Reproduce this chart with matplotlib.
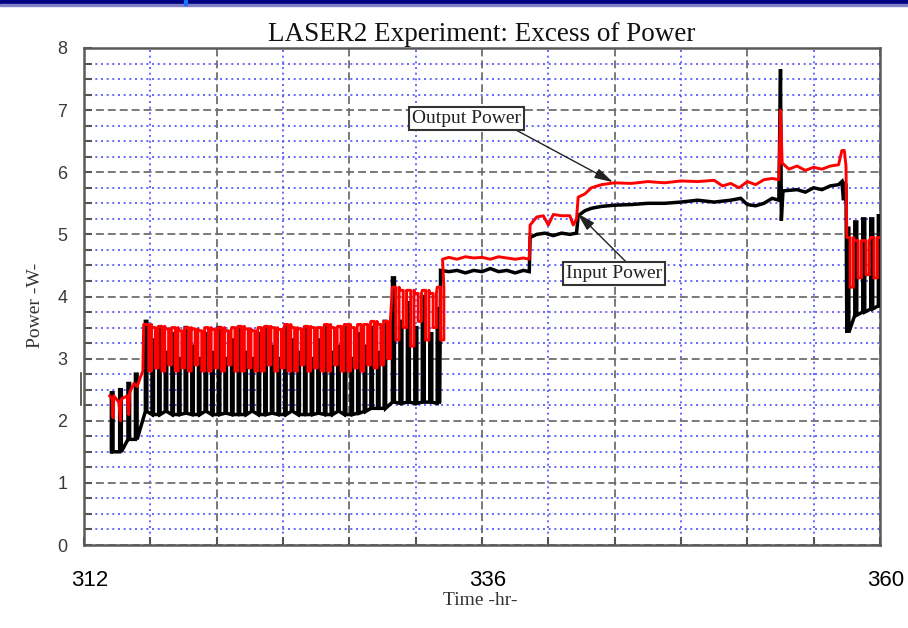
import matplotlib
matplotlib.use('Agg')
import matplotlib.pyplot as plt
from matplotlib.patches import Rectangle
from matplotlib.ticker import MultipleLocator, FixedLocator, FixedFormatter
import matplotlib.transforms as mtransforms

# ---------------- data (hours, watts) ----------------

# start of the run
start_t_black = [313.65, 314.15, 314.65, 315.1]
start_black_lo = [1.5, 1.5, 1.7, 1.7]
start_black_hi = [2.45, 2.5, 2.6, 2.75]
start_t_red = [313.55, 313.7, 313.75, 313.8, 314.1, 314.2, 314.25, 314.6,
               314.7, 314.75, 315.0, 315.2, 315.4, 315.55, 315.6]
start_red = [2.40, 2.35, 2.05, 2.40, 2.30, 2.00, 2.35, 2.40,
             2.10, 2.45, 2.60, 2.55, 2.70, 2.80, 3.55]

# first cycling block (~3.5 W output)
cyc1_t = [315.7, 316.1, 316.5, 316.9, 317.3, 317.7, 318.1, 318.5, 318.9, 319.3,
          319.7, 320.1, 320.5, 320.9, 321.3, 321.7, 322.1, 322.5, 322.9, 323.3,
          323.7, 324.1, 324.5, 324.9, 325.3, 325.7, 326.1, 326.5, 326.9, 327.3,
          327.7, 328.1, 328.5, 328.9, 329.3, 329.7, 330.1]
cyc1_black_lo = [2.15, 2.10, 2.10, 2.15, 2.10, 2.10, 2.12, 2.10, 2.10, 2.15,
                 2.10, 2.10, 2.12, 2.10, 2.10, 2.10, 2.15, 2.10, 2.10, 2.12,
                 2.10, 2.10, 2.15, 2.10, 2.10, 2.10, 2.12, 2.10, 2.10, 2.15,
                 2.10, 2.10, 2.12, 2.15, 2.20, 2.20, 2.20]
cyc1_black_hi = [3.60, 3.30, 3.50, 3.10, 3.40, 3.00, 3.50, 3.20, 3.00, 3.40,
                 3.10, 3.50, 3.00, 3.30, 3.50, 3.10, 3.00, 3.40, 3.50, 3.20,
                 3.00, 3.50, 3.30, 3.10, 3.50, 3.00, 3.30, 3.50, 3.10, 3.20,
                 3.50, 3.00, 3.40, 3.20, 3.50, 3.10, 3.60]
cyc1_red_hi = [3.55, 3.50, 3.52, 3.48, 3.50, 3.45, 3.50, 3.48, 3.45, 3.50,
               3.47, 3.50, 3.45, 3.50, 3.52, 3.48, 3.45, 3.50, 3.52, 3.50,
               3.47, 3.55, 3.50, 3.48, 3.52, 3.50, 3.50, 3.55, 3.50, 3.52,
               3.55, 3.50, 3.55, 3.55, 3.60, 3.55, 3.60]
cyc1_red_lo = [2.80, 2.85, 2.80, 2.90, 2.80, 2.85, 2.80, 2.90, 2.80, 2.80,
               2.85, 2.80, 2.90, 2.80, 2.80, 2.85, 2.80, 2.80, 2.90, 2.80,
               2.85, 2.80, 2.80, 2.90, 2.80, 2.85, 2.80, 2.80, 2.90, 2.80,
               2.80, 2.85, 2.80, 2.90, 2.85, 2.90, 3.00]

# second cycling block (~4.1 W output)
cyc2_t = [330.6, 331.05, 331.5, 331.95, 332.4, 332.85, 333.3]
cyc2_black_lo = [2.30, 2.28, 2.30, 2.28, 2.30, 2.30, 2.28]
cyc2_black_hi = [4.30, 3.60, 3.90, 3.50, 4.00, 3.40, 3.80]
cyc2_red_hi = [4.15, 4.10, 4.10, 4.05, 4.10, 4.05, 4.15]
cyc2_red_lo = [3.30, 3.50, 3.20, 3.60, 3.30, 3.50, 3.30]

# steady steps
flat_t_black = [333.45, 333.5, 334.0, 334.5, 335.0, 335.5, 336.0, 336.5, 337.0, 337.5,
                338.0, 338.5, 338.85, 338.9, 339.3, 339.8, 340.3, 340.8, 341.3, 341.7,
                341.8, 342.2, 342.6, 343.2, 344.0, 345.0, 346.0, 347.0, 348.0, 349.0,
                350.0, 351.0, 351.6, 352.0, 352.5, 353.0, 353.5, 353.9, 354.0, 354.05,
                354.15, 355.0, 355.5, 356.0, 356.5, 357.0, 357.5, 357.7, 357.8, 357.85,
                357.95]
flat_black = [2.30, 4.42, 4.40, 4.42, 4.38, 4.42, 4.40, 4.45, 4.40, 4.42,
              4.38, 4.42, 4.40, 4.95, 5.00, 5.02, 4.98, 5.02, 5.00, 5.02,
              5.30, 5.38, 5.42, 5.45, 5.47, 5.48, 5.50, 5.50, 5.52, 5.55,
              5.52, 5.55, 5.58, 5.48, 5.46, 5.50, 5.58, 5.55, 7.66, 5.22,
              5.70, 5.72, 5.68, 5.75, 5.72, 5.78, 5.80, 5.85, 5.55, 5.82,
              5.80]
flat_t_red = [333.62, 334.0, 334.5, 335.0, 335.5, 336.0, 336.5, 337.0, 337.5, 338.0,
              338.5, 338.85, 338.9, 339.3, 339.7, 340.0, 340.3, 340.8, 341.3, 341.5,
              341.7, 341.8, 342.2, 342.6, 343.2, 344.0, 345.0, 346.0, 347.0, 348.0,
              349.0, 350.0, 350.5, 351.0, 351.5, 352.0, 352.5, 353.0, 353.5, 353.9,
              354.0, 354.1, 354.5, 355.0, 355.5, 356.0, 356.5, 357.0, 357.5, 357.7,
              357.85, 357.95]
flat_red = [4.60, 4.63, 4.60, 4.64, 4.62, 4.63, 4.60, 4.64, 4.62, 4.60,
            4.62, 4.60, 5.15, 5.28, 5.30, 5.15, 5.32, 5.30, 5.30, 5.15,
            5.25, 5.60, 5.65, 5.75, 5.80, 5.83, 5.82, 5.85, 5.83, 5.86,
            5.85, 5.87, 5.78, 5.82, 5.75, 5.85, 5.80, 5.88, 5.90, 5.88,
            7.00, 6.15, 6.05, 6.10, 6.03, 6.08, 6.05, 6.10, 6.12, 6.35,
            6.35, 6.10]

# last cycling block after the drop
cyc3_t = [358.0, 358.48, 358.96, 359.44, 359.9]
cyc3_black_lo = [3.42, 3.70, 3.75, 3.80, 3.85]
cyc3_black_hi = [5.10, 5.20, 5.25, 5.25, 5.30]
cyc3_red_hi = [4.95, 4.90, 4.90, 4.95, 4.95]
cyc3_red_lo = [4.15, 4.30, 4.35, 4.30, 4.40]

x_ticks = [312, 320, 328, 336, 344, 352, 360]
x_labels = ['312', '', '', '336', '', '', '360']


def pulses(t, base, peak, width, offset=0.0):
    """square pulses: sits on base, jumps to peak for `width` hours each cycle"""
    xs, ys = [], []
    for ti, b, p in zip(t, base, peak):
        xs += [ti, ti + offset, ti + offset, ti + offset + width, ti + offset + width]
        ys += [b, b, p, p, b]
    return xs, ys


def build(parts):
    xs, ys = [], []
    for px, py in parts:
        xs += list(px)
        ys += list(py)
    return xs, ys


black_x, black_y = build([
    pulses(start_t_black, start_black_lo, start_black_hi, 0.1),
    pulses(cyc1_t, cyc1_black_lo, cyc1_black_hi, 0.09),
    pulses(cyc2_t, cyc2_black_lo, cyc2_black_hi, 0.12),
    (flat_t_black, flat_black),
    pulses(cyc3_t, cyc3_black_lo, cyc3_black_hi, 0.12),
])
red_x, red_y = build([
    (start_t_red, start_red),
    pulses(cyc1_t, cyc1_red_hi, cyc1_red_lo, 0.17, offset=0.2),
    pulses(cyc2_t, cyc2_red_hi, cyc2_red_lo, 0.2, offset=0.2),
    (flat_t_red, flat_red),
    pulses(cyc3_t, cyc3_red_hi, cyc3_red_lo, 0.2, offset=0.2),
])

# ---------------- figure ----------------
fig = plt.figure(figsize=(9.08, 6.28), dpi=100)
ax = fig.add_axes([84 / 908, 83 / 628, 796 / 908, 497 / 628])

# slide header band
fig.patches.append(Rectangle((0, 1 - 4.5 / 628), 1, 4.5 / 628, transform=fig.transFigure,
                             color='#000080', zorder=5))
fig.patches.append(Rectangle((0, 1 - 5.5 / 628), 1, 1 / 628, transform=fig.transFigure,
                             color='#8080c8', zorder=5))
fig.patches.append(Rectangle((184 / 908, 1 - 5 / 628), 3 / 908, 5 / 628,
                             transform=fig.transFigure, color='#2070ff', zorder=6))

ax.plot(black_x, black_y, color='black', lw=2.5, solid_joinstyle='miter', zorder=3)
ax.plot(red_x, red_y, color='#ff0000', lw=2.1, zorder=4)

ax.set_xlim(312, 360)
ax.set_ylim(0, 8)
ax.xaxis.set_major_locator(FixedLocator(x_ticks))
ax.xaxis.set_major_formatter(FixedFormatter(x_labels))
ax.xaxis.set_minor_locator(MultipleLocator(4))
ax.yaxis.set_major_locator(MultipleLocator(1))
ax.yaxis.set_minor_locator(MultipleLocator(0.25))

ax.grid(which='major', color='#6e6e6e', linestyle=(0, (4.4, 2.2)), linewidth=1.3, zorder=1)
ax.grid(which='minor', color='#4f4fff', linestyle=(0, (1.2, 2.2)), linewidth=1.2, zorder=1)
ax.set_axisbelow(True)

for s in ax.spines.values():
    s.set_color('#5a5a5a')
    s.set_linewidth(1.8)

ax.tick_params(which='both', direction='in', length=6, width=1.5, color='#555555',
               top=False, right=False)
ax.tick_params(axis='y', which='major', labelsize=13, labelcolor='#3a3a3a', pad=12)
ax.tick_params(axis='x', which='major', labelsize=16, labelcolor='black', pad=18)
for lab in ax.get_yticklabels():
    lab.set_family('Liberation Sans')
shift = mtransforms.ScaledTranslation(6 / 100, 0, fig.dpi_scale_trans)
for lab in ax.get_xticklabels():
    lab.set_family('Liberation Sans')
    lab.set_transform(lab.get_transform() + shift)

# odd little bracket on the left edge of the original scan
ax.plot([-0.004, -0.004], [2.25, 2.77], transform=ax.get_yaxis_transform(),
        color='#444444', lw=1.2, clip_on=False, zorder=6)

ax.set_title('LASER2 Experiment: Excess of Power', family='Liberation Serif',
             fontsize=19.5, color='#111111', pad=5)
ax.set_xlabel('Time -hr-', family='Liberation Serif', fontsize=14, color='#333333')
ax.xaxis.set_label_coords(0.4975, -0.095)
ax.set_ylabel('Power -W-', family='Liberation Serif', fontsize=14, color='#333333')
ax.yaxis.set_label_coords(-0.05, 0.483)

box = dict(boxstyle='square,pad=0.15', fc='white', ec='#333333', lw=1.5)
arrow = dict(arrowstyle='-|>,head_length=0.8,head_width=0.22', color='#222222', lw=1.0,
             shrinkA=0, shrinkB=0, mutation_scale=14)
ax.annotate('Output Power', xy=(343.9, 5.84), xytext=(335.05, 6.87),
            ha='center', va='center', family='Liberation Serif', fontsize=14,
            color='#222222', bbox=box, arrowprops=dict(arrow, relpos=(0.9, 0.0)), zorder=7)
ax.annotate('Input Power', xy=(341.75, 5.34), xytext=(343.95, 4.37),
            ha='center', va='center', family='Liberation Serif', fontsize=14,
            color='#222222', bbox=box, arrowprops=dict(arrow, relpos=(0.66, 1.0)), zorder=7)

plt.savefig('out.png', dpi=100)
